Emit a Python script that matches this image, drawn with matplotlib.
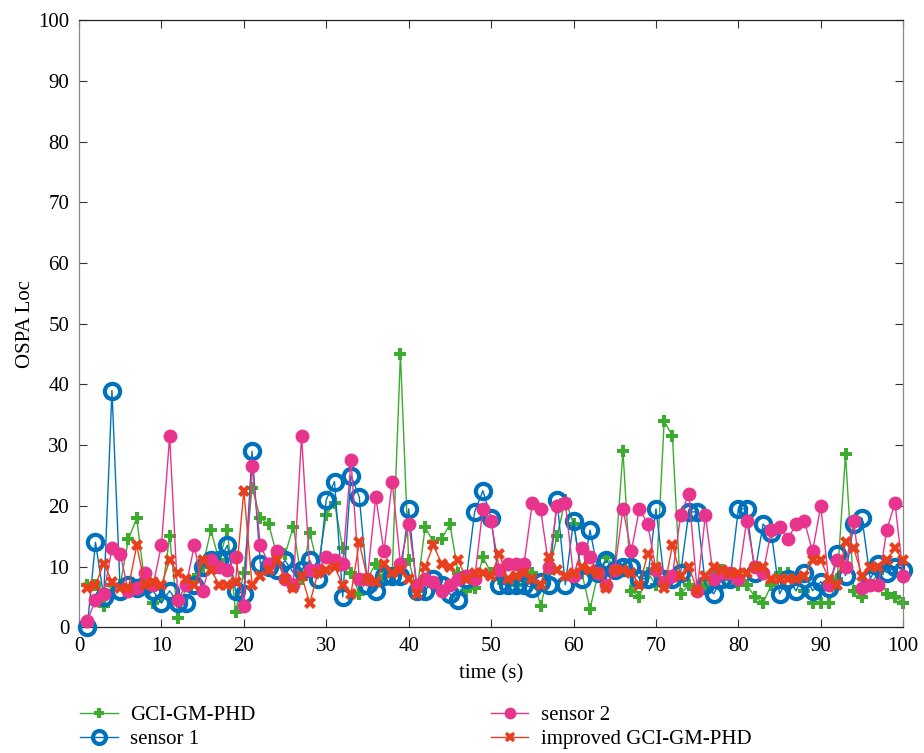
import matplotlib
matplotlib.use("Agg")
import matplotlib.pyplot as plt
import numpy as np

t = list(range(1, 101))

gci = [7, 7, 3.5, 7, 7, 14.5, 18, 7, 4, 5,
       15, 1.5, 7, 8, 10, 16, 11, 16, 2.5, 9,
       23, 18, 17, 12, 12, 16.5, 8, 15.5, 10, 18.5,
       20.5, 13, 9, 5.5, 8, 10.5, 8.5, 9, 45, 11,
       6, 16.5, 14, 14.5, 17, 9, 6, 6.5, 11.5, 9,
       8, 7.5, 7, 8, 9, 3.5, 9, 15, 21, 17,
       9, 3, 9, 11.5, 10, 29, 6, 5, 9, 7,
       34, 31.5, 5.5, 7, 6, 7, 9, 9.5, 8, 7,
       7, 5, 4, 7, 9, 9, 8, 6, 4, 4,
       4, 8, 28.5, 6, 5, 7, 9, 5.5, 5, 4]

sensor1 = [0, 14, 5, 39, 6, 7, 6.5, 7, 6, 4,
           6, 4, 4, 7, 10, 11, 11, 13.5, 6, 5.5,
           29, 10.5, 10, 9.5, 11, 9, 9.5, 11, 8, 21,
           24, 5, 25, 21.5, 7, 6, 8.5, 8.5, 8.5, 19.5,
           6, 6, 8, 7, 5.5, 4.5, 8, 19, 22.5, 18,
           7, 7, 7, 7, 6.5, 7.5, 7, 21, 7, 17.5,
           8, 16, 9, 11, 9.5, 10, 10, 8, 8, 19.5,
           8, 8, 9, 19, 19, 7, 5.5, 8, 8, 19.5,
           19.5, 9, 17, 15.5, 5.5, 8, 6, 9, 6, 7.5,
           6.5, 12, 8.5, 17, 18, 8, 10.5, 9, 10, 9.5]

sensor2 = [1, 4.5, 5.5, 13, 12, 6, 6.5, 9, 7, 13.5,
           31.5, 4.5, 7, 13.5, 6, 11, 10, 9.5, 11.5, 3.5,
           26.5, 13.5, 10.5, 12.5, 8, 7, 31.5, 9.5, 9.5, 11.5,
           11, 10.5, 27.5, 8, 8, 21.5, 12.5, 24, 10.5, 17,
           7, 8, 7.5, 6, 7, 8, 8.5, 8, 19.5, 17.5,
           9.5, 10.5, 10.5, 10.5, 20.5, 19.5, 10, 20, 20.5, 8.5,
           13, 11.5, 9, 7, 9.5, 19.5, 12.5, 19.5, 17, 9.5,
           7.5, 8.5, 18.5, 22, 6, 18.5, 8, 9, 9, 8,
           17.5, 10, 9, 16, 16.5, 14.5, 17, 17.5, 12.5, 20,
           7, 11, 10, 17.5, 6.5, 7, 7, 16, 20.5, 8.5]

improved = [6.5, 7, 10.5, 7.5, 6.5, 6.5, 13.5, 7, 7.5, 7,
            11, 9, 8, 7, 11, 9.5, 7, 7, 7.5, 22.5,
            7, 8.5, 9.5, 11, 8, 6.5, 8.5, 4, 9, 9.5,
            10, 7, 5.5, 14, 8, 7.5, 10.5, 9, 9.5, 8,
            5.5, 10, 13.5, 10.5, 10, 11, 8, 9, 9, 8.5,
            12, 8, 8.5, 9, 8, 7, 11.5, 9.5, 8.5, 9,
            10, 9.5, 9, 6.5, 9.5, 9.5, 9, 7, 12, 10,
            6.5, 13.5, 8.5, 10, 6, 8.5, 10, 9.5, 9, 9,
            9, 10, 10, 8, 8, 8, 8, 8.5, 11, 11,
            8, 7, 14, 13, 8.5, 10, 10, 11, 13, 11]

labels = ["GCI-GM-PHD", "sensor 1", "sensor 2", "improved GCI-GM-PHD"]

plt.rcParams['font.family'] = ['Liberation Serif', 'DejaVu Serif']

fig = plt.figure(figsize=(9.24, 7.53), dpi=100)
ax = fig.add_axes([0.0855, 0.167, 0.892, 0.806])

c_green = '#3cac2e'
c_blue = '#0072bd'
c_pink = '#e8348c'
c_red = '#e8401e'

l1, = ax.plot(t, gci, color=c_green, lw=1.0, marker='P', ms=9, mew=0, label=labels[0], zorder=2, clip_on=False)
l2, = ax.plot(t, sensor1, color=c_blue, lw=1.0, marker='o', ms=11, mfc='none', mew=3, label=labels[1], zorder=3, clip_on=False)
l3, = ax.plot(t, sensor2, color=c_pink, lw=1.0, marker='o', ms=10, mew=0, label=labels[2], zorder=4, clip_on=False)
l4, = ax.plot(t, improved, color=c_red, lw=1.0, marker='X', ms=9, mew=0, label=labels[3], zorder=5, clip_on=False)

ax.set_xlim(0, 100)
ax.set_ylim(0, 100)
ax.set_xticks(range(0, 101, 10))
ax.set_yticks(range(0, 101, 10))
ax.tick_params(direction='in', length=6, labelsize=15, top=True, right=True, pad=7, color='#333333')
ax.spines['top'].set_color('#222222')
ax.spines['bottom'].set_color('#222222')
ax.spines['left'].set_color('#888888')
ax.spines['right'].set_color('#888888')
for s in ax.spines.values():
    s.set_linewidth(0.9)
ax.set_xlabel('time (s)', fontsize=15, labelpad=6)
ax.set_ylabel('OSPA Loc', fontsize=15, labelpad=2)

fig.legend(handles=[l1, l2, l3, l4], loc='upper left', bbox_to_anchor=(0.0866, 0.063),
           ncol=2, frameon=False, fontsize=15, columnspacing=11.3, handlelength=1.8,
           handletextpad=0.6, borderpad=0, borderaxespad=0,
           labelspacing=0.2, markerscale=0.85)

fig.savefig('out.png', dpi=100)
